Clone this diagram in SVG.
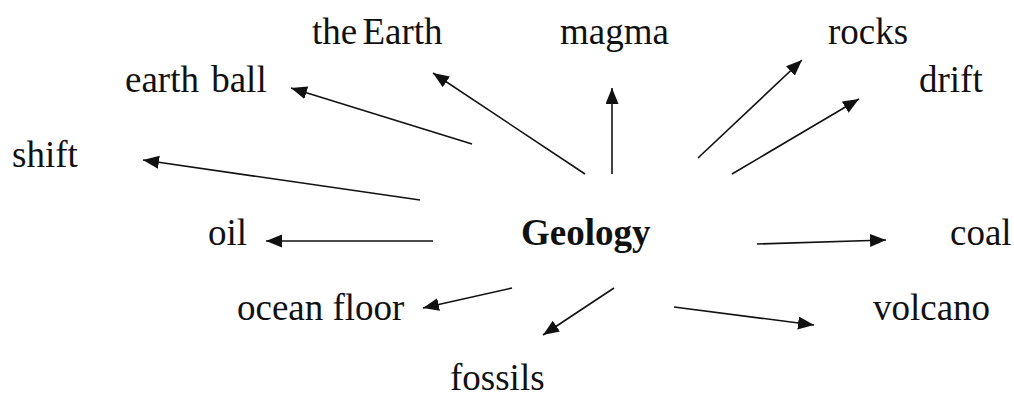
<svg xmlns="http://www.w3.org/2000/svg" width="1014" height="398" viewBox="0 0 1014 398">
<style>
text{font-family:"Liberation Serif","Times New Roman",serif;font-size:37px;fill:#111}
.b{font-weight:bold}
.c line{stroke:#111;stroke-width:1.6;marker-end:url(#ah)}
</style>
<defs>
<marker id="ah" markerUnits="userSpaceOnUse" markerWidth="18" markerHeight="14" refX="16" refY="6.5" orient="auto">
<path d="M0,0 L16,6.5 L0,13 Z" fill="#111"/>
</marker>
</defs>
<rect width="1014" height="398" fill="#fff"/>
<g class="c" id="connectors">
<line x1="585" y1="174" x2="433" y2="73"/>
<line x1="472" y1="144" x2="291" y2="88"/>
<line x1="420" y1="200" x2="143" y2="160"/>
<line x1="612" y1="174" x2="612" y2="88"/>
<line x1="698" y1="158" x2="802" y2="60"/>
<line x1="732" y1="174" x2="859" y2="99"/>
<line x1="433" y1="241" x2="266" y2="241"/>
<line x1="757" y1="244" x2="886" y2="240"/>
<line x1="512" y1="288" x2="423" y2="308"/>
<line x1="614" y1="288" x2="543" y2="335"/>
<line x1="674" y1="307" x2="814" y2="325"/>
</g>
<g id="geology"><text class="b" x="521" y="245">Geology</text></g>
<g id="the-earth"><text x="312" y="44" word-spacing="-4">the Earth</text></g>
<g id="magma"><text x="560" y="44">magma</text></g>
<g id="rocks"><text x="828" y="44">rocks</text></g>
<g id="earth-ball"><text x="125" y="92" word-spacing="3">earth ball</text></g>
<g id="drift"><text x="919" y="92">drift</text></g>
<g id="shift"><text x="12" y="167">shift</text></g>
<g id="oil"><text x="208" y="245">oil</text></g>
<g id="coal"><text x="950" y="245">coal</text></g>
<g id="ocean-floor"><text x="237" y="320">ocean floor</text></g>
<g id="volcano"><text x="873" y="320">volcano</text></g>
<g id="fossils"><text x="450" y="390">fossils</text></g>
</svg>
